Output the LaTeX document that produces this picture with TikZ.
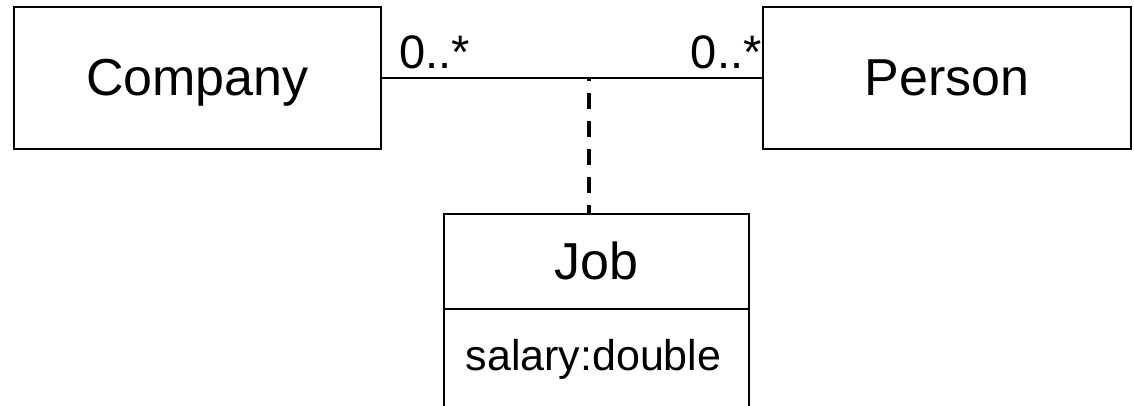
\documentclass[tikz,border=0pt]{standalone}
\usepackage{fontspec}
\setmainfont{Liberation Sans}
\begin{document}
\begin{tikzpicture}[x=1pt,y=-1pt,
  cls/.style={draw, line width=2pt, inner sep=0pt, outer sep=0pt,
    text height=36pt, text depth=0pt, font=\fontsize{52}{60}\selectfont},
  lbl/.style={inner sep=0pt, outer sep=0pt},
  mult/.style={lbl, font=\fontsize{47}{56}\selectfont},
  assoc/.style={line width=2pt},
  assocclass/.style={line width=4pt, dash pattern=on 16pt off 12pt, dash phase=13pt}]
\useasboundingbox (0,0) rectangle (1134,405);
\node[cls, minimum width=366.7pt, minimum height=142.3pt] (comp) at (197.5,77.9) {Company};
\node[cls, minimum width=367.4pt, minimum height=142.3pt] (pers) at (947,77.9) {Person};
\node[draw, line width=2pt, inner sep=0pt, outer sep=0pt, minimum width=304.7pt, minimum height=196pt] (job) at (596.7,312) {};
\node[lbl, anchor=base, font=\fontsize{52}{60}\selectfont] (jobname) at (596.7,279.3) {Job};
\node[lbl, anchor=base, font=\fontsize{43}{52}\selectfont] (attr) at (593.5,370) {salary:double};
\coordinate (div) at (596.7,308.7);
\draw[line width=2pt] (job.west |- div) -- (job.east |- div);
\draw[assoc] (comp.east) -- (pers.west);
\node[mult, anchor=base west] (m1) at (399.5,68.3) {0..*};
\node[mult, anchor=base east] (m2) at (761.5,68.3) {0..*};
\coordinate (mid) at (589,77.9);
\draw[assocclass] (mid) -- (mid |- job.north);
\end{tikzpicture}
\end{document}
